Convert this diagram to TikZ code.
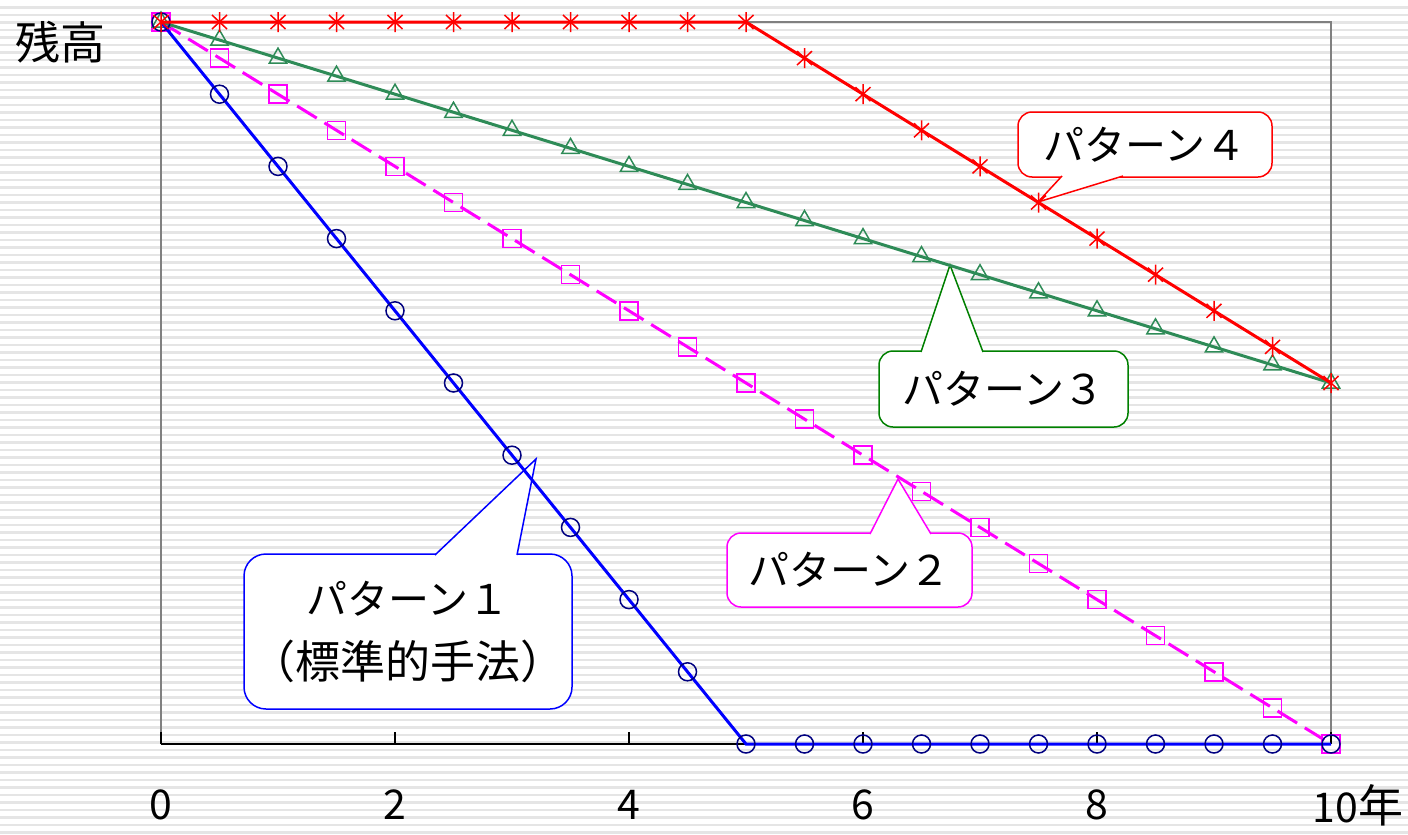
\documentclass[tikz,border=0pt]{standalone}
\usepackage{fontspec}
\newfontfamily\jp{Noto Sans CJK JP}
\usepackage{tikz}
\usetikzlibrary{plotmarks}
\definecolor{navyblue}{RGB}{0,0,128}
\definecolor{seagrn}{RGB}{46,139,87}
\definecolor{darkgrn}{RGB}{0,128,0}
\definecolor{pink}{RGB}{255,0,255}
\pgfdeclareplotmark{xstar}{%
  \pgfpathmoveto{\pgfqpoint{0pt}{\pgfplotmarksize}}%
  \pgfpathlineto{\pgfqpoint{0pt}{-\pgfplotmarksize}}%
  \pgfpathmoveto{\pgfqpoint{-.75\pgfplotmarksize}{.7\pgfplotmarksize}}%
  \pgfpathlineto{\pgfqpoint{.75\pgfplotmarksize}{-.7\pgfplotmarksize}}%
  \pgfpathmoveto{\pgfqpoint{-.75\pgfplotmarksize}{-.7\pgfplotmarksize}}%
  \pgfpathlineto{\pgfqpoint{.75\pgfplotmarksize}{.7\pgfplotmarksize}}%
  \pgfusepathqstroke}

\begin{document}
\begin{tikzpicture}[x=0.5pt,y=-0.5pt,font=\jp\fontsize{20.5}{32}\selectfont,
    callout box/.style={draw,fill=white,line width=0.75pt,outer sep=0pt,inner sep=0pt,align=center},
    pointer/.style={line width=0.75pt,fill=white},
    big/.style={font=\jp\fontsize{22.5}{32}\selectfont},
    series/.style={line width=1.5pt,mark size=4.5pt,mark options={solid,line width=0.75pt}}]
  \useasboundingbox (0,0) rectangle (1408,835);
  \foreach \i in {0,...,111}
    \fill[gray!20] (0,{6+7.5*\i}) rectangle (1408,{8.7+7.5*\i});
  \draw[gray,line width=1pt] (161,744) -- (161,22) -- (1331,22) -- (1331,744);
  \draw[line width=1pt] (161,744) -- (1331,744);
  \foreach \k in {0,2,...,10}
    \draw[line width=1pt] ({161+117*\k},744) -- ({161+117*\k},732);
  \foreach \k in {0,2,4,6,8}
    \node (x\k) at ({161+117*\k},805) {\k};
  \node (x10) at (1358,805) {10{\fontsize{22.5}{32}\selectfont 年}};
  \node[big] (ylab) at (61,42) {残高};

  \node[callout box,draw=blue,rounded corners=11pt,minimum width=164pt,minimum height=77.5pt] (c1) at (408,631.5) {パターン１\\{\fontsize{22.5}{32}\selectfont（標準的手法）}};
  \node[callout box,draw=pink,rounded corners=7pt,minimum width=122.5pt,minimum height=37pt] (c2) at (849.5,570) {パターン２};
  \node[callout box,draw=darkgrn,rounded corners=7pt,minimum width=124.5pt,minimum height=38pt] (c3) at (1003.5,389) {パターン３};
  \node[callout box,draw=red,rounded corners=7pt,minimum width=127pt,minimum height=32.5pt] (c4) at (1145,144.5) {パターン４};
  \coordinate (t1) at (536,459);
  \coordinate (t2) at (898,479);
  \coordinate (t3) at (950,265);
  \coordinate (t4) at (1038,202);
  \draw[pointer,draw=blue] ([xshift=95.5pt,yshift=-0.5pt]c1.north west) -- (t1) -- ([xshift=136.5pt,yshift=-0.5pt]c1.north west);
  \draw[pointer,draw=pink] ([xshift=71.5pt,yshift=-0.5pt]c2.north west) -- (t2) -- ([xshift=102pt,yshift=-0.5pt]c2.north west);
  \draw[pointer,draw=darkgrn] ([xshift=21pt,yshift=-0.5pt]c3.north west) -- (t3) -- ([xshift=52pt,yshift=-0.5pt]c3.north west);
  \draw[pointer,draw=red] ([xshift=22pt,yshift=0.5pt]c4.south west) -- (t4) -- ([xshift=52.5pt,yshift=0.5pt]c4.south west);

  \begin{scope}[shift={(161,744)},x=58.5pt,y=361pt]
    \draw[series,pink,dash pattern=on 11.5pt off 4.5pt] plot[mark=square,domain=0:10,samples=21] (\x,{1-\x/10});
    \draw[series,seagrn,mark size=5pt] plot[mark=triangle,domain=0:10,samples=21] (\x,{1-\x/20});
    \draw[series,blue,mark options={solid,line width=0.75pt,draw=navyblue}] plot[mark=o,domain=0:10,samples=21] (\x,{max(1-\x/5,0)});
    \draw[series,red,mark size=5pt] plot[mark=xstar,domain=0:10,samples=21] (\x,{min(1,1.5-\x/10)});
  \end{scope}
\end{tikzpicture}
\end{document}
